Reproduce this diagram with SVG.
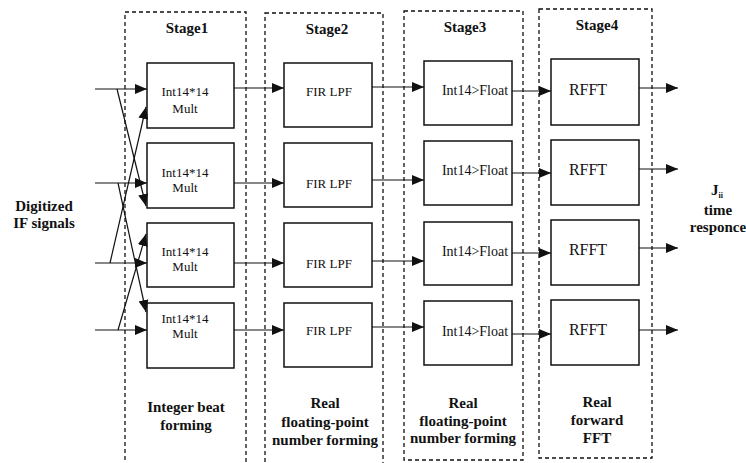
<svg xmlns="http://www.w3.org/2000/svg" width="746" height="463" viewBox="0 0 746 463">
<style>
.stage{fill:none;stroke:#111;stroke-width:1.3;stroke-dasharray:4 3}
.blk{fill:#fff;stroke:#111;stroke-width:1.5}
.ln{fill:none;stroke:#111;stroke-width:1.2}
.t{font-family:'Liberation Serif','DejaVu Serif',serif;fill:#111;text-anchor:middle}
.s13{font-size:13px}
.s14{font-size:14px}
.s16{font-size:16px}
.b15{font-size:15px;font-weight:bold}
</style>
<defs>
<marker id="ah" viewBox="0 0 12 10" refX="12" refY="5" markerWidth="12" markerHeight="10" markerUnits="userSpaceOnUse" orient="auto">
<path d="M0,0 L12,5 L0,10 z" fill="#111"/>
</marker>
</defs>
<rect width="746" height="463" fill="#fff"/>

<g id="stage1">
<rect class="stage" x="125" y="12" width="121" height="460"/>
<text class="t b15" x="187" y="33">Stage1</text>
<text class="t b15" x="186" y="412">Integer beat</text>
<text class="t b15" x="186" y="430">forming</text>
</g>
<g id="stage2">
<rect class="stage" x="265" y="13" width="118" height="460"/>
<text class="t b15" x="327" y="34">Stage2</text>
<text class="t b15" x="325" y="408">Real</text>
<text class="t b15" x="325" y="427">floating-point</text>
<text class="t b15" x="325" y="445">number forming</text>
</g>
<g id="stage3">
<rect class="stage" x="404" y="11" width="119" height="449"/>
<text class="t b15" x="465" y="32">Stage3</text>
<text class="t b15" x="463" y="408">Real</text>
<text class="t b15" x="463" y="426">floating-point</text>
<text class="t b15" x="463" y="443">number forming</text>
</g>
<g id="stage4">
<rect class="stage" x="539" y="9" width="113" height="449"/>
<text class="t b15" x="597" y="30">Stage4</text>
<text class="t b15" x="597" y="407">Real</text>
<text class="t b15" x="597" y="425">forward</text>
<text class="t b15" x="597" y="443">FFT</text>
</g>

<g id="mult1"><rect class="blk" x="147" y="63" width="87" height="65"/><text class="t s13" x="185" y="96">Int14*14</text><text class="t s13" x="185" y="113">Mult</text></g>
<g id="mult2"><rect class="blk" x="147" y="143" width="87" height="65"/><text class="t s13" x="185" y="177">Int14*14</text><text class="t s13" x="185" y="192">Mult</text></g>
<g id="mult3"><rect class="blk" x="147" y="223" width="87" height="64"/><text class="t s13" x="185" y="256">Int14*14</text><text class="t s13" x="185" y="271">Mult</text></g>
<g id="mult4"><rect class="blk" x="147" y="303" width="87" height="65"/><text class="t s13" x="185" y="323">Int14*14</text><text class="t s13" x="185" y="338">Mult</text></g>

<g id="fir1"><rect class="blk" x="284" y="63" width="88" height="64"/><text class="t s13" x="329" y="96">FIR LPF</text></g>
<g id="fir2"><rect class="blk" x="284" y="143" width="88" height="64"/><text class="t s13" x="329" y="188">FIR LPF</text></g>
<g id="fir3"><rect class="blk" x="284" y="223" width="88" height="64"/><text class="t s13" x="329" y="268">FIR LPF</text></g>
<g id="fir4"><rect class="blk" x="284" y="303" width="88" height="64"/><text class="t s13" x="329" y="335">FIR LPF</text></g>

<g id="conv1"><rect class="blk" x="424" y="61" width="88" height="64"/><text class="t s14" x="475" y="95">Int14&gt;Float</text></g>
<g id="conv2"><rect class="blk" x="424" y="141" width="88" height="64"/><text class="t s14" x="475" y="175">Int14&gt;Float</text></g>
<g id="conv3"><rect class="blk" x="424" y="222" width="88" height="63"/><text class="t s14" x="475" y="256">Int14&gt;Float</text></g>
<g id="conv4"><rect class="blk" x="424" y="301" width="88" height="64"/><text class="t s14" x="475" y="336">Int14&gt;Float</text></g>

<g id="fft1"><rect class="blk" x="551" y="59" width="88" height="66"/><text class="t s16" x="588" y="95">RFFT</text></g>
<g id="fft2"><rect class="blk" x="551" y="140" width="88" height="65"/><text class="t s16" x="588" y="175">RFFT</text></g>
<g id="fft3"><rect class="blk" x="551" y="220" width="88" height="65"/><text class="t s16" x="588" y="255">RFFT</text></g>
<g id="fft4"><rect class="blk" x="551" y="300" width="88" height="65"/><text class="t s16" x="588" y="335">RFFT</text></g>

<g id="input-label">
<text class="t b15" x="44" y="211">Digitized</text>
<text class="t b15" x="44" y="228">IF signals</text>
</g>
<g id="output-label">
<text class="t b15" x="717" y="195">J<tspan font-size="8" dy="3">ii</tspan></text>
<text class="t b15" x="718" y="215">time</text>
<text class="t b15" x="718" y="232">responce</text>
</g>

<g id="connectors">
<line class="ln" x1="95" y1="89" x2="147" y2="89" marker-end="url(#ah)"/>
<line class="ln" x1="95" y1="183" x2="147" y2="183" marker-end="url(#ah)"/>
<line class="ln" x1="95" y1="263" x2="147" y2="263" marker-end="url(#ah)"/>
<line class="ln" x1="95" y1="330" x2="147" y2="330" marker-end="url(#ah)"/>
<line class="ln" x1="117" y1="89" x2="146" y2="206" marker-end="url(#ah)"/>
<line class="ln" x1="110" y1="263" x2="146" y2="107" marker-end="url(#ah)"/>
<line class="ln" x1="118" y1="183" x2="146" y2="312" marker-end="url(#ah)"/>
<line class="ln" x1="118" y1="330" x2="146" y2="234" marker-end="url(#ah)"/>

<line class="ln" x1="234" y1="88" x2="284" y2="88" marker-end="url(#ah)"/>
<line class="ln" x1="234" y1="183" x2="284" y2="183" marker-end="url(#ah)"/>
<line class="ln" x1="234" y1="263" x2="284" y2="263" marker-end="url(#ah)"/>
<line class="ln" x1="234" y1="330" x2="284" y2="330" marker-end="url(#ah)"/>

<line class="ln" x1="372" y1="87" x2="424" y2="87" marker-end="url(#ah)"/>
<line class="ln" x1="372" y1="180" x2="424" y2="180" marker-end="url(#ah)"/>
<line class="ln" x1="372" y1="261" x2="424" y2="261" marker-end="url(#ah)"/>
<line class="ln" x1="372" y1="327" x2="424" y2="327" marker-end="url(#ah)"/>

<line class="ln" x1="512" y1="91" x2="551" y2="91" marker-end="url(#ah)"/>
<line class="ln" x1="512" y1="173" x2="551" y2="173" marker-end="url(#ah)"/>
<line class="ln" x1="512" y1="253" x2="551" y2="253" marker-end="url(#ah)"/>
<line class="ln" x1="512" y1="334" x2="551" y2="334" marker-end="url(#ah)"/>

<line class="ln" x1="639" y1="88" x2="678" y2="88" marker-end="url(#ah)"/>
<line class="ln" x1="639" y1="169" x2="678" y2="169" marker-end="url(#ah)"/>
<line class="ln" x1="639" y1="248" x2="678" y2="248" marker-end="url(#ah)"/>
<line class="ln" x1="639" y1="330" x2="678" y2="330" marker-end="url(#ah)"/>
</g>
</svg>
